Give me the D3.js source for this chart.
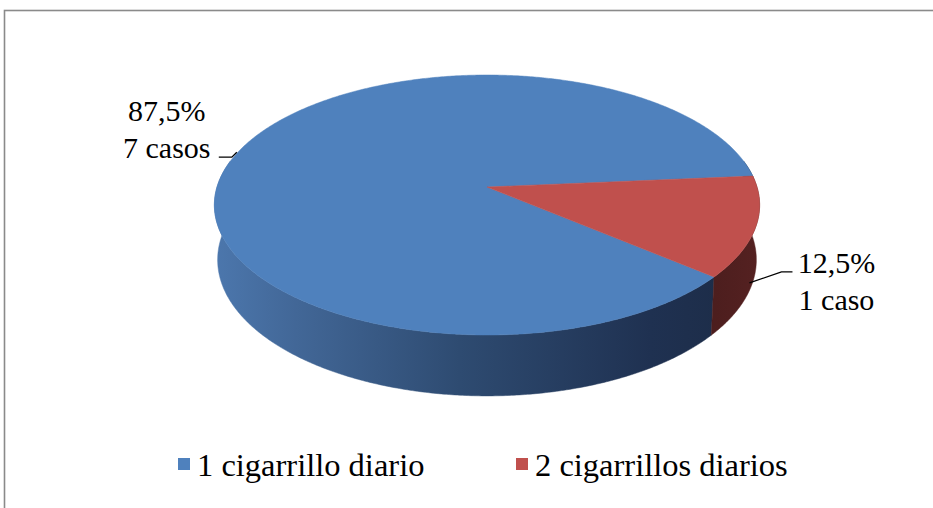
<!DOCTYPE html>
<html><head><meta charset="utf-8">
<script src="https://cdn.jsdelivr.net/npm/d3@7"></script>
<style>html,body{margin:0;padding:0;background:#fff;}svg{display:block;}</style>
</head><body>
<svg id="chart" width="933" height="508"></svg>
<script>
// ---- data ----
const categories = ["1 cigarrillo diario", "2 cigarrillos diarios"];
const values = [7, 1];
const percentLabels = ["87,5%", "12,5%"];
const caseLabels = ["7 casos", "1 caso"];
const colors = ["#4F81BD", "#C0504D"];

// ---- geometry ----
const X0 = 487, Y0 = 187;      // projected centre (apex)
const A = 270, B = 127.5;      // radii before perspective
const K = 0.1385;              // perspective strength
const H = 54;                  // thickness
const deg = Math.PI / 180;

function rim(theta, depth) {
  const u = Math.cos(theta), v = Math.sin(theta);
  const w = 1 - K * v;
  const s = 1 - 0.012 * depth;
  return [X0 + A * u / w * s, Y0 + B * v / w * s + H * depth / w];
}

const svg = d3.select("#chart");
const defs = svg.append("defs");

// frame
svg.append("rect").attr("x", 4.5).attr("y", 10.5).attr("width", 1000).attr("height", 600)
  .attr("fill", "none").attr("stroke", "#8a8a8a").attr("stroke-width", 1.6);

// gradients for sides
const gB = defs.append("linearGradient").attr("id", "sideBlue")
  .attr("gradientUnits", "userSpaceOnUse").attr("x1", 214).attr("x2", 760).attr("y1", 0).attr("y2", 0);
[[0, "#4c77ad"], [0.15, "#426797"], [0.45, "#2e4b71"], [0.8, "#1f3151"], [1, "#1c2b45"]]
  .forEach(([o, c]) => gB.append("stop").attr("offset", o).attr("stop-color", c));
const gR = defs.append("linearGradient").attr("id", "sideRed")
  .attr("gradientUnits", "userSpaceOnUse").attr("x1", 700).attr("x2", 760).attr("y1", 0).attr("y2", 0);
[[0, "#4a1d1d"], [1, "#552121"]]
  .forEach(([o, c]) => gR.append("stop").attr("offset", o).attr("stop-color", c));
const sideFills = ["url(#sideBlue)", "url(#sideRed)"];

const start = 130 * deg;
const pie = d3.pie().sort(null).startAngle(start).endAngle(start + 2 * Math.PI);
const arcs = pie(values).map((d, i) => ({
  ...d, i,
  t0: d.startAngle - Math.PI / 2,
  t1: d.endAngle - Math.PI / 2
}));

const line = d3.line();
function range(a, b, step) {
  const out = [];
  const n = Math.max(1, Math.ceil((b - a) / step));
  for (let j = 0; j <= n; j++) out.push(a + (b - a) * j / n);
  return out;
}

// sides (visible front part)
const visLo = -12 * deg, visHi = 192 * deg;
const sideG = svg.append("g");
arcs.forEach(d => {
  for (let off = -2 * Math.PI; off <= 2 * Math.PI; off += 2 * Math.PI) {
    const a = Math.max(d.t0 + off, visLo), b = Math.min(d.t1 + off, visHi);
    if (b > a) {
      const ts = range(a, b, 0.5 * deg);
      const pts = ts.map(t => rim(t, 0)).concat(ts.slice().reverse().map(t => rim(t, 1)));
      sideG.append("path").attr("d", line(pts) + "Z")
        .attr("fill", sideFills[d.i]).attr("stroke", sideFills[d.i]).attr("stroke-width", 0.5);
    }
  }
});

// top faces
const topG = svg.append("g");
arcs.forEach(d => {
  const pts = [[X0, Y0]].concat(range(d.t0, d.t1, 0.5 * deg).map(t => rim(t, 0)));
  topG.append("path").attr("d", line(pts) + "Z")
    .attr("fill", colors[d.i]).attr("stroke", colors[d.i]).attr("stroke-width", 0.5);
});

// data labels
const font = "'Liberation Serif','Times New Roman',serif";
const lab = svg.append("g").attr("font-family", font).attr("font-size", 30).attr("fill", "#000");
arcs.forEach(d => {
  const mid = (d.t0 + d.t1) / 2;
  if (d.i === 0) {
    const p = rim(mid, 0);
    const ax = p[0] - 3, ay = p[1] + 2;
    svg.append("path").attr("d", line([[ax, ay], [ax - 5, ay + 5], [ax - 18, ay + 5]]))
      .attr("fill", "none").attr("stroke", "#000").attr("stroke-width", 1.3);
    const tx = ax - 70;
    lab.append("text").attr("x", tx).attr("y", ay - 31).attr("text-anchor", "middle").text(percentLabels[d.i]);
    lab.append("text").attr("x", tx).attr("y", ay + 6).attr("text-anchor", "middle").text(caseLabels[d.i]);
  } else {
    const p = rim(mid, 1);
    const ax = p[0] - 3, ay = p[1];
    svg.append("path").attr("d", line([[ax, ay], [ax + 32, ay - 11], [ax + 43, ay - 11]]))
      .attr("fill", "none").attr("stroke", "#000").attr("stroke-width", 1.3);
    const tx = ax + 87;
    lab.append("text").attr("x", tx).attr("y", ay - 10).attr("text-anchor", "middle").text(percentLabels[d.i]);
    lab.append("text").attr("x", tx).attr("y", ay + 27).attr("text-anchor", "middle").text(caseLabels[d.i]);
  }
});

// legend
const legendX = [178, 516];
const leg = svg.append("g").attr("font-family", font).attr("font-size", 32.5);
categories.forEach((c, i) => {
  leg.append("rect").attr("x", legendX[i]).attr("y", 458).attr("width", 12).attr("height", 12).attr("fill", colors[i]);
  leg.append("text").attr("x", legendX[i] + 19).attr("y", 476).text(c);
});
</script>
</body></html>
